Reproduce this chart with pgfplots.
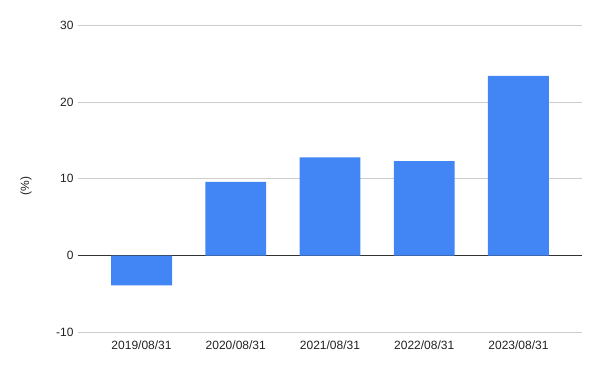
\documentclass[border=0pt]{standalone}
\usepackage{pgfplots}
\pgfplotsset{compat=1.18}
\usepackage{fontspec}
\setmainfont{Liberation Sans}
\definecolor{barblue}{HTML}{4285F4}
\definecolor{gridgray}{HTML}{CCCCCC}
\definecolor{labgray}{HTML}{222222}
\begin{document}
\begin{tikzpicture}
\path[use as bounding box] (-78pt,-38.7pt) rectangle (522pt,332.3pt);
\begin{axis}[
  at={(0,0)}, anchor=south west,
  scale only axis,
  width=504pt, height=307pt,
  xmin=-0.674, xmax=4.674,
  ymin=-10, ymax=30,
  ytick={-10,0,10,20,30},
  xtick={0,1,2,3,4},
  xticklabels={2019/08/31,2020/08/31,2021/08/31,2022/08/31,2023/08/31},
  ymajorgrids,
  grid style={gridgray, line width=0.8pt},
  axis line style={draw=none},
  major tick style={draw=none},
  tick label style={font=\fontsize{12}{14}\selectfont, text=labgray},
  /pgf/number format/assume math mode=true,
  xticklabel style={yshift=-1pt},
  yticklabel style={xshift=-1pt},
  ylabel={(\%)},
  ylabel style={font=\fontsize{12}{14}\selectfont, text=labgray, at={(axis description cs:-0.1032,0.4766)}, anchor=center},
  extra y ticks={0},
  extra y tick labels={},
  extra y tick style={grid style={black!80, line width=0.9pt}},
  ybar, bar width=0.647, bar shift=0pt,
]
\addplot[fill=barblue, draw=none] coordinates {(0,-3.9) (1,9.6) (2,12.8) (3,12.3) (4,23.4)};
\end{axis}
\end{tikzpicture}
\end{document}
